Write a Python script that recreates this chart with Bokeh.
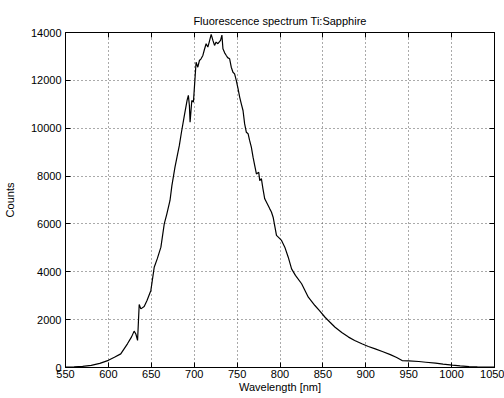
from bokeh.plotting import figure
from bokeh.models import LinearAxis, FixedTicker, Range1d
from bokeh.embed import file_html
from bokeh.resources import INLINE

wavelength = [550, 560, 570, 580, 590, 600, 607, 614.4, 622.2, 627, 630, 632, 634, 635.9, 637.8,
              641.7, 645, 649.5, 653.4, 657, 661.2, 665.1, 668, 671.8, 674, 677.6, 680, 682.7,
              685, 688.5, 691.7, 693.2, 694.4, 695.2, 697.2, 699.1, 702.2, 704.2, 706.1, 708,
              710.1, 712, 713.9, 715.9, 717.5, 719.8, 721.8, 723.7, 725.5, 727.6, 730.7, 732.3,
              733.5, 735.5, 737.4, 739, 741.3, 743.2, 745.2, 747.1, 749.1, 751.1, 753, 754.9,
              756.9, 758.8, 760.8, 762.8, 764.5, 766.6, 768.6, 770.5, 772.5, 775.2, 776.4,
              778.3, 780, 782.2, 785, 788.1, 790, 792.0, 795.9, 798, 801.8, 805.6, 809.6,
              813.5, 818, 825.2, 833.0, 840.7, 846, 852.5, 858, 864.2, 872, 879.9, 887,
              895.4, 903, 911.0, 920, 928.6, 936, 942.3, 950, 961.8, 970, 981.3, 990, 1000.8,
              1010, 1020.4, 1030, 1040, 1047.7, 1050]
counts = [20, 30, 50, 90, 170, 300, 430, 570, 990, 1280, 1520, 1400, 1130, 2630, 2450,
          2550, 2800, 3220, 4190, 4550, 5030, 6000, 6400, 6980, 7600, 8370, 8800, 9280,
          9800, 10530, 11160, 11370, 10950, 10250, 11160, 11090, 12760, 12550, 12830, 12900,
          13040, 13300, 13530, 13390, 13600, 13920, 13670, 13460, 13600, 13530, 13670, 13890,
          13320, 13150, 13040, 12950, 12900, 12550, 12340, 12270, 11990, 11650, 11300, 11020,
          10740, 10180, 9830, 9770, 9500, 9210, 8790, 8450, 8090, 8160, 7810,
          7890, 7500, 7050, 6850, 6630, 6500, 6280, 5520, 5450, 5310, 5030, 4610,
          4120, 3850, 3500, 2940, 2590, 2380, 2100, 1900, 1680, 1460, 1270, 1130,
          990, 880, 780, 660, 540, 420, 290, 280, 250, 220, 180, 140, 100,
          70, 40, 25, 15, 15, 15]

x_ticks = [550, 600, 650, 700, 750, 800, 850, 900, 950, 1000, 1050]
y_ticks = [0, 2000, 4000, 6000, 8000, 10000, 12000, 14000]

FONT = "Liberation Sans"

p = figure(width=504, height=398, output_backend="svg", toolbar_location=None,
           x_range=Range1d(550, 1050), y_range=Range1d(0, 14000),
           title="Fluorescence spectrum Ti:Sapphire",
           min_border_left=65, min_border_right=10, min_border_top=32, min_border_bottom=31,
           x_axis_label="Wavelength [nm]", y_axis_label="Counts")
p.background_fill_color = "white"
p.border_fill_color = "white"
p.outline_line_color = "black"
p.outline_line_width = 1

p.title.align = "center"
p.title.text_font = FONT
p.title.text_font_size = "11px"
p.title.text_font_style = "normal"
p.title.text_color = "black"
p.title.offset = 0
p.title.standoff = 11

for ax in p.xaxis:
    ax.ticker = FixedTicker(ticks=x_ticks)
for ax in p.yaxis:
    ax.ticker = FixedTicker(ticks=y_ticks)

for ax in p.axis:
    ax.major_tick_in = 5
    ax.major_tick_out = 0
    ax.minor_tick_line_color = None
    ax.axis_line_color = "black"
    ax.major_tick_line_color = "black"
    ax.major_label_text_font = FONT
    ax.major_label_text_font_size = "11px"
    ax.major_label_text_color = "black"
    ax.axis_label_text_font = FONT
    ax.axis_label_text_font_size = "11px"
    ax.axis_label_text_font_style = "normal"
    ax.axis_label_text_color = "black"

p.xaxis.major_label_standoff = 2
p.xaxis.axis_label_standoff = 0
p.yaxis.major_label_standoff = 4
p.yaxis.axis_label_standoff = 12

top = LinearAxis(ticker=FixedTicker(ticks=x_ticks),
                 major_label_overrides={t: "" for t in x_ticks},
                 major_tick_in=5, major_tick_out=0, minor_tick_line_color=None,
                 major_label_standoff=0)
right = LinearAxis(ticker=FixedTicker(ticks=y_ticks),
                   major_label_overrides={t: "" for t in y_ticks},
                   major_tick_in=5, major_tick_out=0, minor_tick_line_color=None,
                   major_label_standoff=0)
p.add_layout(top, "above")
p.add_layout(right, "right")

p.xgrid.ticker = FixedTicker(ticks=x_ticks)
p.ygrid.ticker = FixedTicker(ticks=y_ticks)
for g in (p.xgrid, p.ygrid):
    g.grid_line_color = "#555555"
    g.grid_line_dash = "1 3"
    g.grid_line_width = 1

p.line(wavelength, counts, line_color="black", line_width=1.2)

open("out.html", "w").write(file_html(p, INLINE))
